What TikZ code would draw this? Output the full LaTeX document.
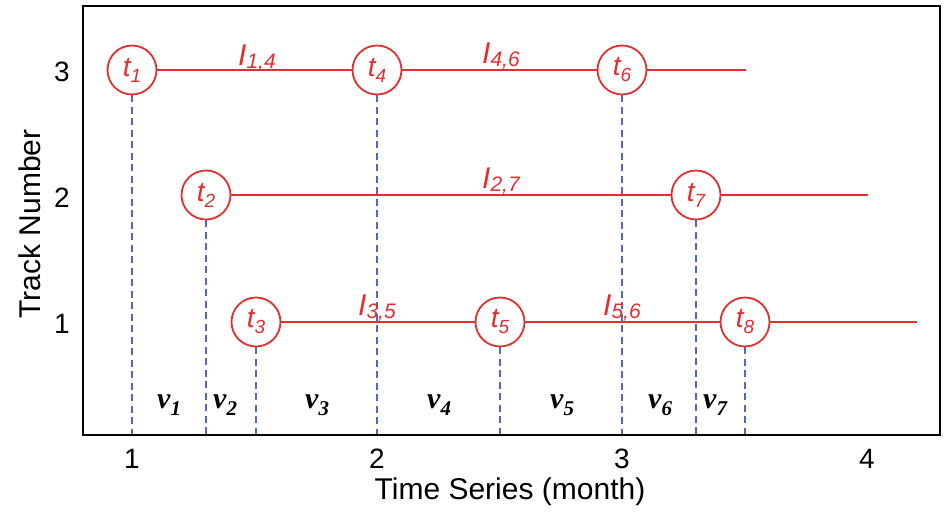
\documentclass[tikz,border=0pt]{standalone}
\usepackage{fontspec}
\setmainfont{Liberation Sans}
\newfontfamily\vfont{Liberation Serif}
\definecolor{tred}{RGB}{224,48,48}
\definecolor{tblue}{RGB}{78,104,200}
\newcommand\tlab[1]{\itshape t\raisebox{-6pt}{\fontsize{19}{19}\selectfont #1}}
\newcommand\ilab[1]{\itshape I\raisebox{-3pt}{\fontsize{21}{21}\selectfont #1}}
\newcommand\vlab[1]{\vfont\bfseries\itshape v\raisebox{-7pt}{\fontsize{21}{21}\selectfont #1}}
\begin{document}
\begin{tikzpicture}[x=1pt,y=-1pt,
  tnode/.style={circle,draw=tred,line width=1.8pt,fill=white,minimum size=49pt,inner sep=0pt,text=tred,font=\fontsize{28}{28}\selectfont},
  track/.style={draw=tred,line width=1.6pt},
  guide/.style={draw=tblue,line width=1.6pt,dash pattern=on 7pt off 4.5pt},
  ilabel/.style={text=tred,anchor=base west,inner sep=0pt,font=\fontsize{30}{30}\selectfont},
  vlabel/.style={anchor=base west,inner sep=0pt,font=\fontsize{30}{30}\selectfont},
  tick/.style={font=\fontsize{28}{28}\selectfont,inner sep=0pt},
  axlabel/.style={font=\fontsize{30}{30}\selectfont,inner sep=0pt}]
\useasboundingbox (0,0) rectangle (944,512);
% nodes
\node[tnode] (t1) at (132,70) {\tlab{1}};
\node[tnode] (t4) at (377,70) {\tlab{4}};
\node[tnode] (t6) at (622,70) {\tlab{6}};
\node[tnode] (t2) at (206,195) {\tlab{2}};
\node[tnode] (t7) at (696,195) {\tlab{7}};
\node[tnode] (t3) at (256,322) {\tlab{3}};
\node[tnode] (t5) at (500,322) {\tlab{5}};
\node[tnode] (t8) at (745,322) {\tlab{8}};
\coordinate (e3) at (746,70);
\coordinate (e2) at (868,195);
\coordinate (e1) at (917,322);
% track lines
\draw[track] (t1) -- (t4);
\draw[track] (t4) -- (t6);
\draw[track] (t6) -- (e3);
\draw[track] (t2) -- (t7);
\draw[track] (t7) -- (e2);
\draw[track] (t3) -- (t5);
\draw[track] (t5) -- (t8);
\draw[track] (t8) -- (e1);
% guides
\foreach \n/\x in {1/132,4/377,6/622,2/206,7/696,3/256,5/500,8/745}{
  \coordinate (b\n) at (\x,435);
  \draw[guide] (t\n.south) -- (b\n);
}
% interval labels
\node[ilabel] (i14) at (238,65) {\ilab{1,4}};
\node[ilabel] (i46) at (482,63) {\ilab{4,6}};
\node[ilabel] (i27) at (482,188) {\ilab{2,7}};
\node[ilabel] (i35) at (358,315) {\ilab{3,5}};
\node[ilabel] (i56) at (603,315) {\ilab{5,6}};
% v labels
\node[vlabel] (v1) at (157,408) {\vlab{1}};
\node[vlabel] (v2) at (213,408) {\vlab{2}};
\node[vlabel] (v3) at (305,408) {\vlab{3}};
\node[vlabel] (v4) at (427,408) {\vlab{4}};
\node[vlabel] (v5) at (550,408) {\vlab{5}};
\node[vlabel] (v6) at (648,408) {\vlab{6}};
\node[vlabel] (v7) at (703,408) {\vlab{7}};
% frame
\draw[line width=2.6pt,black] (83,6) rectangle (940,435);
% ticks
\node[tick] (x1) at (132,459) {1};
\node[tick] (x2) at (377,459) {2};
\node[tick] (x3) at (622,459) {3};
\node[tick] (x4) at (867,459) {4};
\node[tick] (y3) at (62,72) {3};
\node[tick] (y2) at (62,198) {2};
\node[tick] (y1) at (62,324) {1};
\node[axlabel] (xl) at (510,492) {Time Series (month)};
\node[axlabel,rotate=90] (yl) at (30,224) {Track Number};
\end{tikzpicture}
\end{document}
